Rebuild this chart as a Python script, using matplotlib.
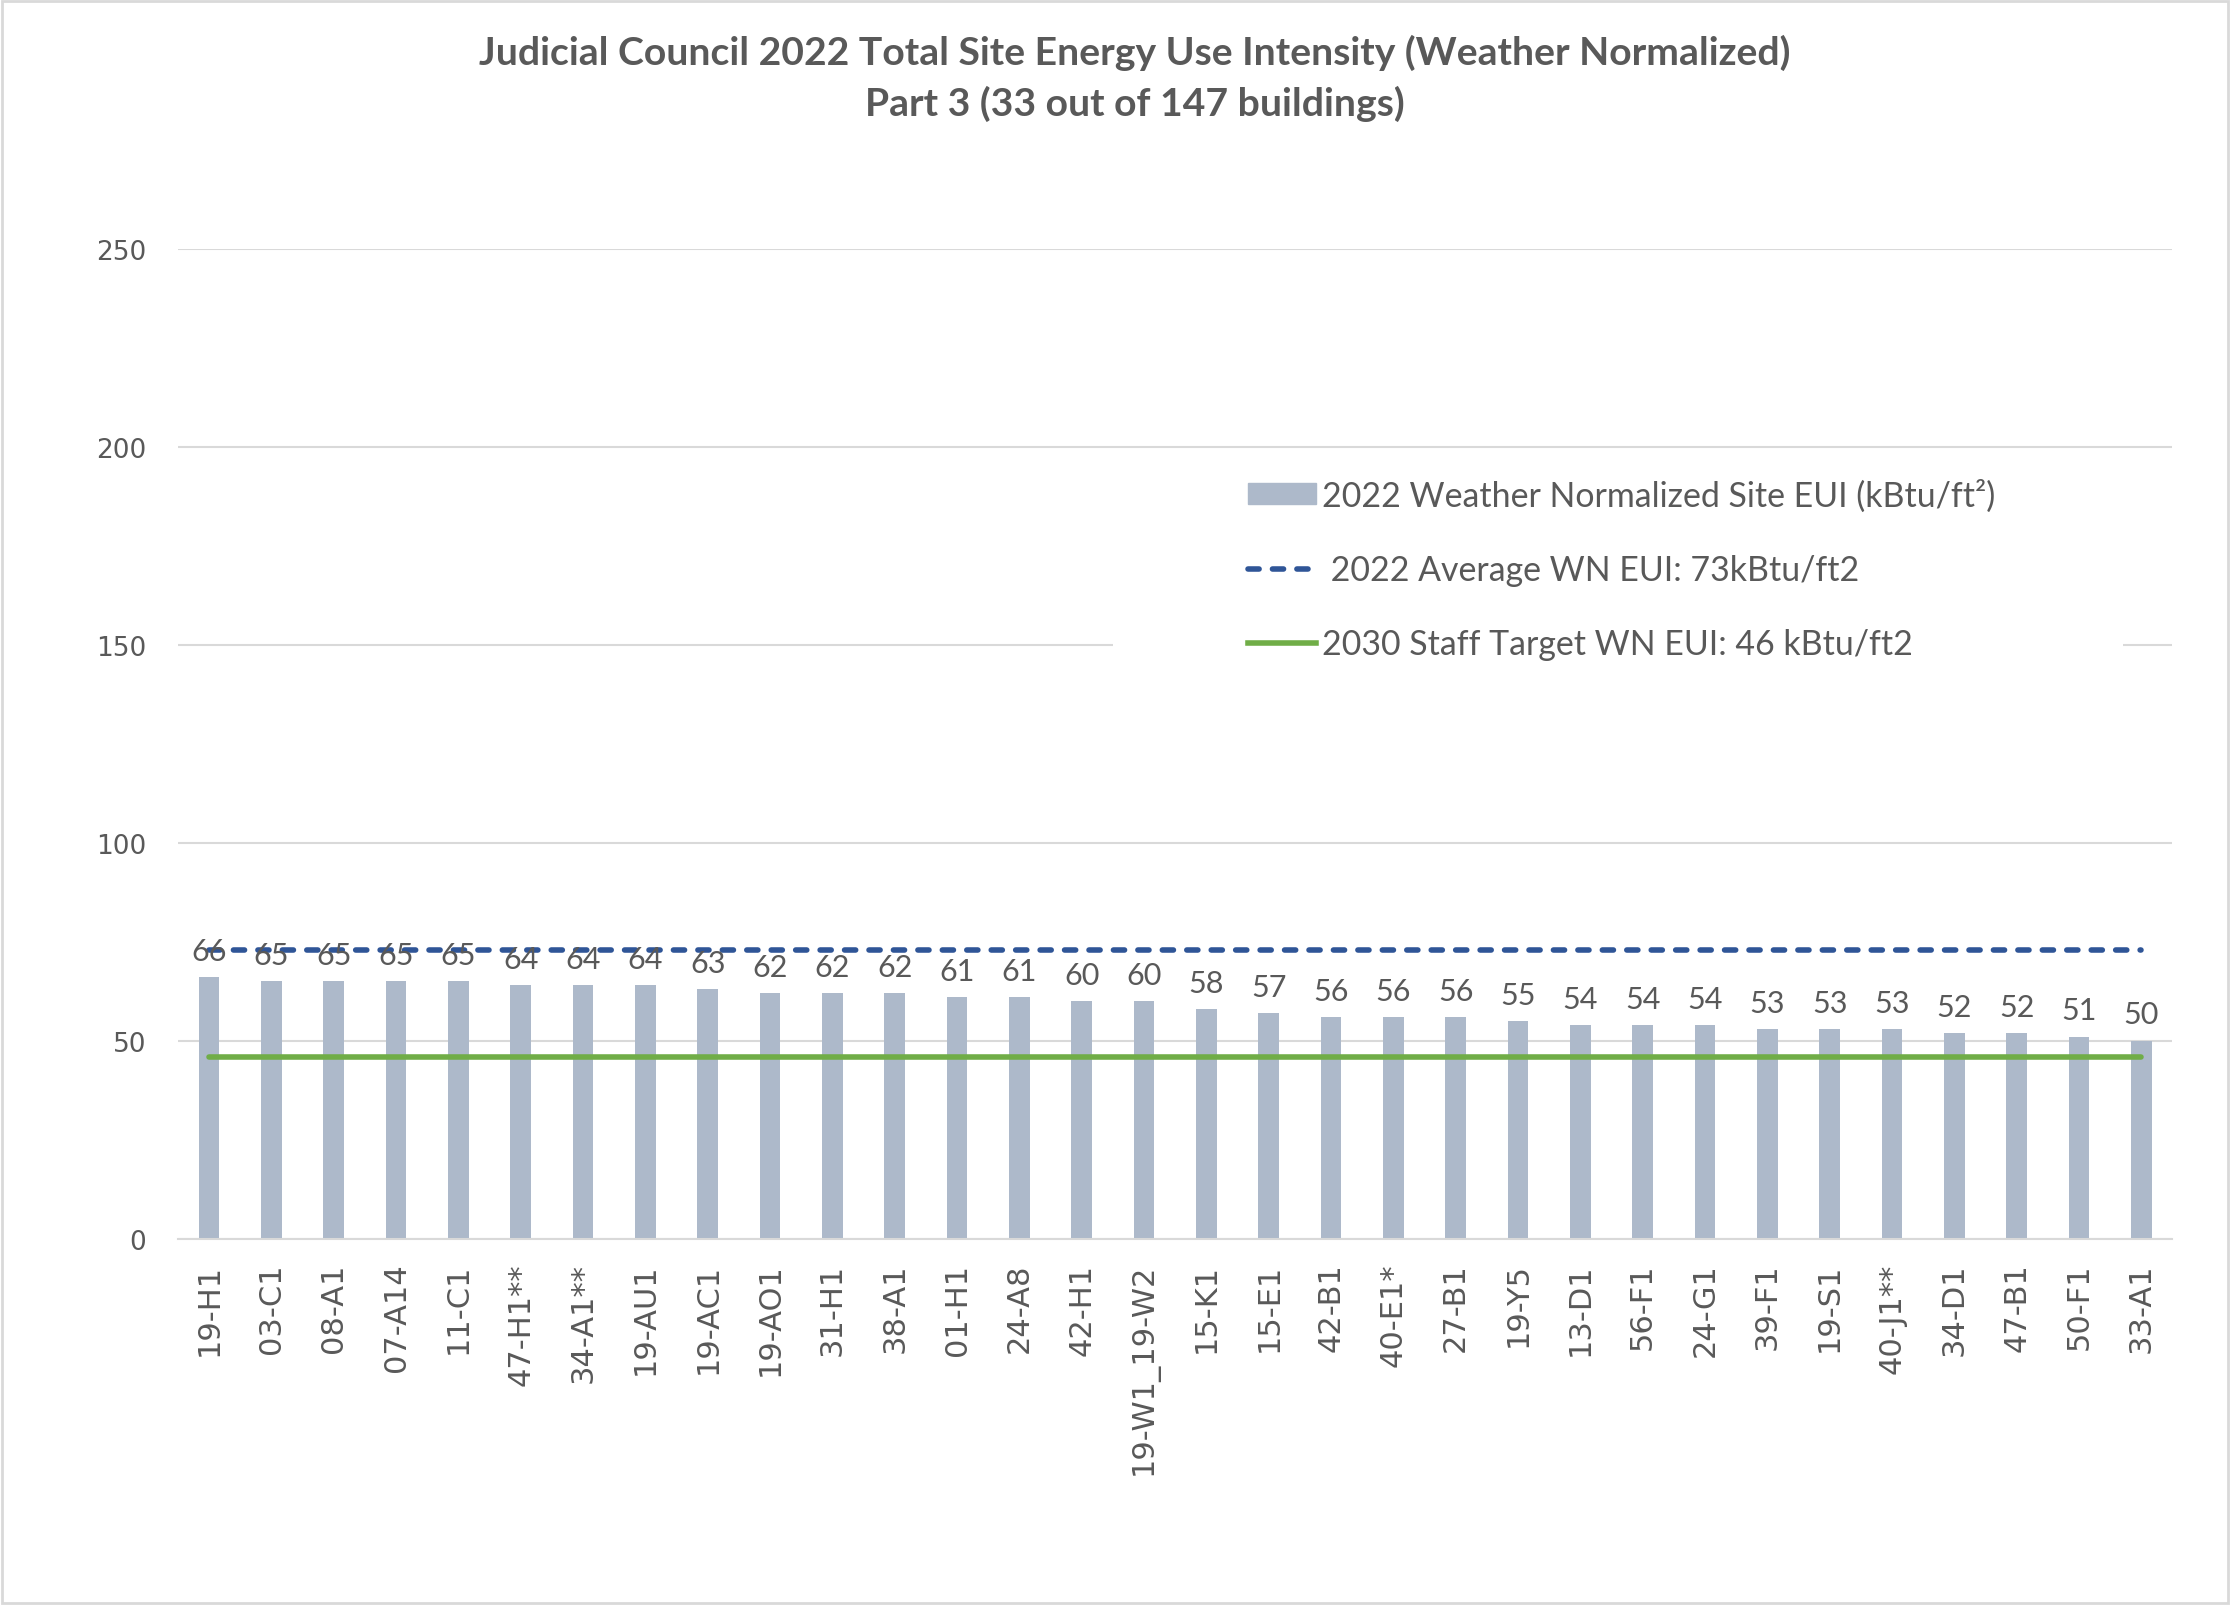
import matplotlib
matplotlib.use('Agg')
import matplotlib.pyplot as plt
import matplotlib.patches as mpatches
from matplotlib.lines import Line2D

plt.rcParams['font.family'] = ['DejaVu Sans']

# buildings, sorted by weather-normalized site EUI
buildings = ['19-H1', '03-C1', '08-A1', '07-A14', '11-C1', '47-H1**', '34-A1**',
             '19-AU1', '19-AC1', '19-AO1', '31-H1', '38-A1', '01-H1', '24-A8',
             '42-H1', '19-W1_19-W2', '15-K1', '15-E1', '42-B1', '40-E1*', '27-B1',
             '19-Y5', '13-D1', '56-F1', '24-G1', '39-F1', '19-S1', '40-J1**',
             '34-D1', '47-B1', '50-F1', '33-A1']
eui = [66, 65, 65, 65, 65, 64, 64, 64, 63, 62, 62, 62, 61, 61, 60, 60, 58, 57,
       56, 56, 56, 55, 54, 54, 54, 53, 53, 53, 52, 52, 51, 50]
avg_eui = 73
target_eui = 46

y_ticks = [0, 50, 100, 150, 200, 250]

narrow = ['Lato', 'DejaVu Sans']
txt_color = '#595959'
bar_color = '#ADB9CA'
grid_color = '#D9D9D9'

fig = plt.figure(figsize=(22.3, 16.06), dpi=100)
ax = fig.add_axes([0.0798, 0.228, 0.8944, 0.6165])

x = list(range(len(buildings)))
ax.bar(x, eui, width=0.33, color=bar_color, zorder=2)
ax.plot([x[0], x[-1]], [avg_eui, avg_eui], color='#2F5597', lw=4,
        linestyle=(0, (2, 2.4)), dash_capstyle='round', zorder=3)
ax.plot([x[0], x[-1]], [target_eui, target_eui], color='#70AD47', lw=4,
        solid_capstyle='round', zorder=3)

for xi, v in zip(x, eui):
    ax.annotate(f'{v}', xy=(xi, v), xytext=(0, 19), textcoords='offset points',
                ha='center', va='center', fontsize=22, color=txt_color,
                family=narrow)

ax.set_xlim(-0.5, len(buildings) - 0.5)
ax.set_ylim(0, 250)
ax.set_yticks(y_ticks)
ax.set_xticks(x)
ax.set_xticklabels(buildings, rotation=90, fontsize=22, color=txt_color)
ax.tick_params(axis='y', length=0, pad=23, labelsize=19, labelcolor=txt_color)
ax.tick_params(axis='x', length=0, pad=17)
ax.grid(axis='y', color=grid_color, lw=1.5)
ax.set_axisbelow(True)
for s in ['top', 'right', 'left']:
    ax.spines[s].set_visible(False)
ax.spines['bottom'].set_color(grid_color)
ax.spines['bottom'].set_linewidth(1.5)

# white box behind the legend
ax.add_patch(mpatches.Rectangle((0.469, 0.56), 0.506, 0.22, transform=ax.transAxes,
                                facecolor='white', edgecolor='none', zorder=1))

handles = [mpatches.Patch(color=bar_color),
           Line2D([], [], color='#2F5597', lw=4, linestyle=(0, (2, 2.4)),
                  dash_capstyle='round'),
           Line2D([], [], color='#70AD47', lw=4)]
labels = ['2022 Weather Normalized Site EUI (kBtu/ft²)',
          f' 2022 Average WN EUI: {avg_eui}kBtu/ft2',
          f'2030 Staff Target WN EUI: {target_eui} kBtu/ft2']
leg = fig.legend(handles, labels, loc='upper left', bbox_to_anchor=(0.552, 0.712),
                 frameon=False, borderpad=0, labelspacing=1.25, handlelength=2.0,
                 handleheight=0.6, handletextpad=0.2,
                 prop={'family': narrow, 'size': 24.4})
for t in leg.get_texts():
    t.set_color(txt_color)

fig.text(0.509, 0.967, 'Judicial Council 2022 Total Site Energy Use Intensity (Weather Normalized)',
         ha='center', va='center', fontsize=28.2, fontweight='bold', color=txt_color,
         family=narrow)
fig.text(0.509, 0.935, 'Part 3 (33 out of 147 buildings)',
         ha='center', va='center', fontsize=28.2, fontweight='bold', color=txt_color,
         family=narrow)

fig.patches.append(mpatches.Rectangle((0.001, 0.001), 0.998, 0.998, transform=fig.transFigure,
                                      fill=False, edgecolor=grid_color, lw=2))

fig.savefig('out.png', dpi=100)
